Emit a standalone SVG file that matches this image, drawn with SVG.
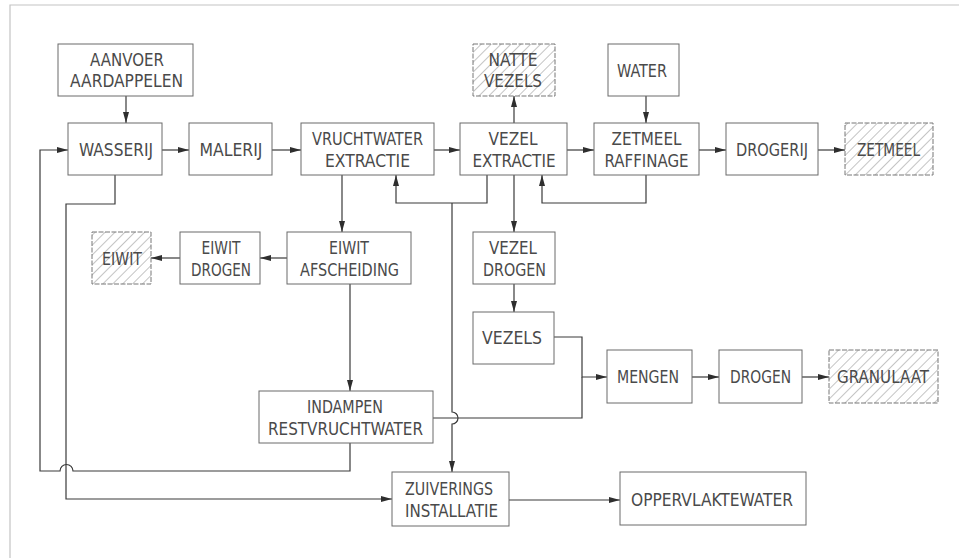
<svg xmlns="http://www.w3.org/2000/svg" width="959" height="560" viewBox="0 0 959 560">
<style>
.box{fill:#fff;stroke:#6a6a6a;stroke-width:1}
.hbox{fill:url(#hatch);stroke:#777;stroke-width:1;stroke-dasharray:5 1.5}
.t{font-family:"DejaVu Sans Condensed","DejaVu Sans",sans-serif;font-size:17px;font-weight:300;fill:#4a4a4a;text-anchor:middle}
.c{fill:none;stroke:#3a3a3a;stroke-width:1.2}
.a{marker-end:url(#ar)}
.frame{fill:none;stroke:#c4c4c4;stroke-width:1.2}
</style>
<defs>
<pattern id="hatch" patternUnits="userSpaceOnUse" width="7" height="7" patternTransform="rotate(45)">
<rect width="7" height="7" fill="#fff"/>
<line x1="0" y1="0" x2="0" y2="7" stroke="#8a8a8a" stroke-width="1"/>
</pattern>
<marker id="ar" markerUnits="userSpaceOnUse" markerWidth="12" markerHeight="8" refX="11" refY="4" orient="auto">
<path d="M0,1 L11,4 L0,7 Z" fill="#2e2e2e"/>
</marker>
</defs>
<rect width="959" height="560" fill="#fff"/>
<path class="frame" d="M10,558 V5 H959"/>

<g id="connectors">
<path class="c a" d="M126,96 V123"/>
<path class="c a" d="M162,150 H189"/>
<path class="c a" d="M272,150 H301"/>
<path class="c a" d="M434,150 H460"/>
<path class="c a" d="M567,150 H594"/>
<path class="c a" d="M699,150 H726"/>
<path class="c a" d="M818,150 H845"/>
<path class="c a" d="M514,123 V96"/>
<path class="c a" d="M646,96 V123"/>
<path class="c a" d="M646,175 V203 H542 V175"/>
<path class="c a" d="M487,175 V203 H396 V175"/>
<path class="c a" d="M452,203 V412 A6,6 0 0 1 452,424 V472"/>
<path class="c a" d="M514,175 V232"/>
<path class="c a" d="M514,284 V312"/>
<path class="c a" d="M554,337 H582 V377 H607"/>
<path class="c" d="M433,418 H582 V377"/>
<path class="c a" d="M692,377 H719"/>
<path class="c a" d="M802,377 H829"/>
<path class="c a" d="M342,175 V232"/>
<path class="c a" d="M287,258 H260"/>
<path class="c a" d="M180,258 H151"/>
<path class="c a" d="M350,284 V391"/>
<path class="c a" d="M350,443 V471 H73 A6.5,6.5 0 0 0 60,471 H40 V150 H68"/>
<path class="c a" d="M115,175 V204 H66 V499 H392"/>
<path class="c a" d="M509,500 H620"/>
</g>

<g id="aanvoer"><rect class="box" x="58" y="44" width="135" height="52"/>
<text class="t" x="127" y="66" textLength="74" lengthAdjust="spacingAndGlyphs">AANVOER</text>
<text class="t" x="126.5" y="87" textLength="113" lengthAdjust="spacingAndGlyphs">AARDAPPELEN</text></g>

<g id="wasserij"><rect class="box" x="68" y="123" width="94" height="52"/>
<text class="t" x="116" y="156" textLength="74" lengthAdjust="spacingAndGlyphs">WASSERIJ</text></g>

<g id="malerij"><rect class="box" x="189" y="123" width="83" height="52"/>
<text class="t" x="231" y="156" textLength="63" lengthAdjust="spacingAndGlyphs">MALERIJ</text></g>

<g id="vruchtwater"><rect class="box" x="301" y="123" width="133" height="52"/>
<text class="t" x="367.5" y="145" textLength="111" lengthAdjust="spacingAndGlyphs">VRUCHTWATER</text>
<text class="t" x="367.5" y="167" textLength="85" lengthAdjust="spacingAndGlyphs">EXTRACTIE</text></g>

<g id="vezelextractie"><rect class="box" x="460" y="123" width="107" height="52"/>
<text class="t" x="513" y="145" textLength="49" lengthAdjust="spacingAndGlyphs">VEZEL</text>
<text class="t" x="514" y="167" textLength="83" lengthAdjust="spacingAndGlyphs">EXTRACTIE</text></g>

<g id="nattevezels"><rect class="hbox" x="473" y="44" width="82" height="52"/>
<text class="t" x="513" y="66" textLength="49" lengthAdjust="spacingAndGlyphs">NATTE</text>
<text class="t" x="513" y="87" textLength="58" lengthAdjust="spacingAndGlyphs">VEZELS</text></g>

<g id="water"><rect class="box" x="608" y="44" width="71" height="52"/>
<text class="t" x="642" y="77" textLength="50" lengthAdjust="spacingAndGlyphs">WATER</text></g>

<g id="zetmeelraffinage"><rect class="box" x="594" y="123" width="105" height="52"/>
<text class="t" x="646.5" y="145" textLength="70" lengthAdjust="spacingAndGlyphs">ZETMEEL</text>
<text class="t" x="646.5" y="167" textLength="84" lengthAdjust="spacingAndGlyphs">RAFFINAGE</text></g>

<g id="drogerij"><rect class="box" x="726" y="123" width="92" height="52"/>
<text class="t" x="772" y="156" textLength="72" lengthAdjust="spacingAndGlyphs">DROGERIJ</text></g>

<g id="zetmeel"><rect class="hbox" x="845" y="123" width="88" height="52"/>
<text class="t" x="888.5" y="156" textLength="63" lengthAdjust="spacingAndGlyphs">ZETMEEL</text></g>

<g id="eiwit"><rect class="hbox" x="92" y="232" width="59" height="52"/>
<text class="t" x="122" y="265" textLength="40" lengthAdjust="spacingAndGlyphs">EIWIT</text></g>

<g id="eiwitdrogen"><rect class="box" x="180" y="232" width="80" height="52"/>
<text class="t" x="221" y="254" textLength="39" lengthAdjust="spacingAndGlyphs">EIWIT</text>
<text class="t" x="221" y="276" textLength="60" lengthAdjust="spacingAndGlyphs">DROGEN</text></g>

<g id="eiwitafscheiding"><rect class="box" x="287" y="232" width="124" height="52"/>
<text class="t" x="349" y="254" textLength="40" lengthAdjust="spacingAndGlyphs">EIWIT</text>
<text class="t" x="349.5" y="276" textLength="99" lengthAdjust="spacingAndGlyphs">AFSCHEIDING</text></g>

<g id="vezeldrogen"><rect class="box" x="473" y="232" width="82" height="52"/>
<text class="t" x="513" y="254" textLength="48" lengthAdjust="spacingAndGlyphs">VEZEL</text>
<text class="t" x="514.5" y="276" textLength="63" lengthAdjust="spacingAndGlyphs">DROGEN</text></g>

<g id="vezels"><rect class="box" x="473" y="312" width="81" height="52"/>
<text class="t" x="512" y="344" textLength="60" lengthAdjust="spacingAndGlyphs">VEZELS</text></g>

<g id="mengen"><rect class="box" x="607" y="350" width="85" height="53"/>
<text class="t" x="648" y="383" textLength="62" lengthAdjust="spacingAndGlyphs">MENGEN</text></g>

<g id="drogen"><rect class="box" x="719" y="350" width="83" height="53"/>
<text class="t" x="760.5" y="383" textLength="61" lengthAdjust="spacingAndGlyphs">DROGEN</text></g>

<g id="granulaat"><rect class="hbox" x="829" y="350" width="109" height="53"/>
<text class="t" x="883" y="383" textLength="92" lengthAdjust="spacingAndGlyphs">GRANULAAT</text></g>

<g id="indampen"><rect class="box" x="259" y="391" width="174" height="52"/>
<text class="t" x="345" y="413" textLength="76" lengthAdjust="spacingAndGlyphs">INDAMPEN</text>
<text class="t" x="345.5" y="435" textLength="155" lengthAdjust="spacingAndGlyphs">RESTVRUCHTWATER</text></g>

<g id="zuiverings"><rect class="box" x="392" y="472" width="117" height="54"/>
<text class="t" x="449" y="495" textLength="88" lengthAdjust="spacingAndGlyphs">ZUIVERINGS</text>
<text class="t" x="451.5" y="517" textLength="93" lengthAdjust="spacingAndGlyphs">INSTALLATIE</text></g>

<g id="oppervlaktewater"><rect class="box" x="620" y="472" width="186" height="53"/>
<text class="t" x="712" y="506" textLength="162" lengthAdjust="spacingAndGlyphs">OPPERVLAKTEWATER</text></g>
</svg>
